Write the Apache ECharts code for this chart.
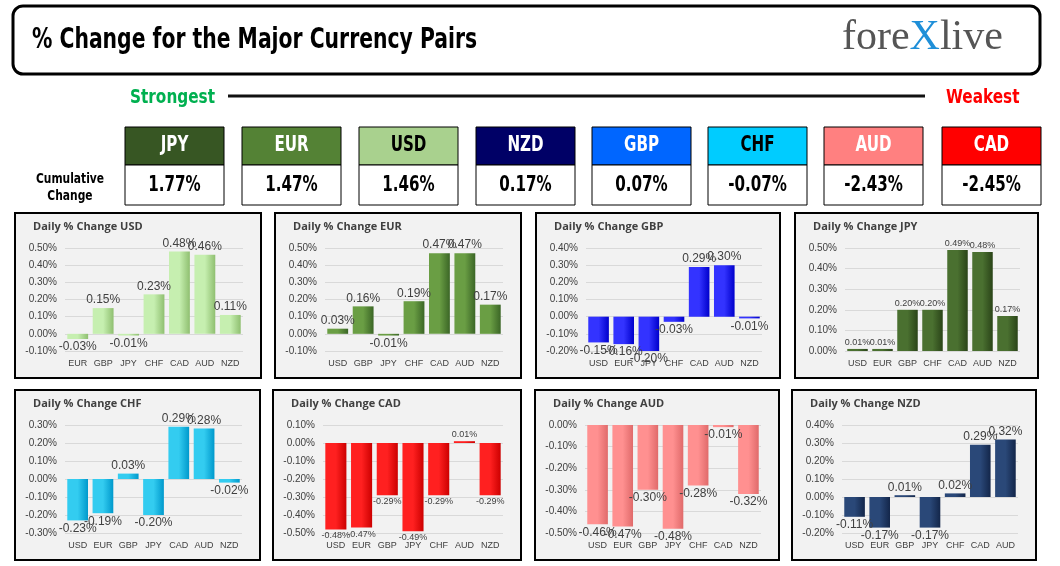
<!DOCTYPE html>
<html><head><meta charset="utf-8">
<script src="https://cdn.jsdelivr.net/npm/echarts@6/dist/echarts.min.js"></script>
<style>html,body{margin:0;padding:0;background:#fff}#c{width:1060px;height:566px}</style>
</head><body><div id="c"></div>
<script>
const rankCurrencies=['JPY','EUR','USD','NZD','GBP','CHF','AUD','CAD'];
const rankValues=[1.77,1.47,1.46,0.17,0.07,-0.07,-2.43,-2.45];
const usdCats=['EUR','GBP','JPY','CHF','CAD','AUD','NZD'], usdVals=[-0.03,0.15,-0.01,0.23,0.48,0.46,0.11];
const eurCats=['USD','GBP','JPY','CHF','CAD','AUD','NZD'], eurVals=[0.03,0.16,-0.01,0.19,0.47,0.47,0.17];
const gbpCats=['USD','EUR','JPY','CHF','CAD','AUD','NZD'], gbpVals=[-0.15,-0.16,-0.20,-0.03,0.29,0.30,-0.01];
const jpyCats=['USD','EUR','GBP','CHF','CAD','AUD','NZD'], jpyVals=[0.01,0.01,0.20,0.20,0.49,0.48,0.17];
const chfCats=['USD','EUR','GBP','JPY','CAD','AUD','NZD'], chfVals=[-0.23,-0.19,0.03,-0.20,0.29,0.28,-0.02];
const cadCats=['USD','EUR','GBP','JPY','CHF','AUD','NZD'], cadVals=[-0.48,-0.47,-0.29,-0.49,-0.29,0.01,-0.29];
const audCats=['USD','EUR','GBP','JPY','CHF','CAD','NZD'], audVals=[-0.46,-0.47,-0.30,-0.48,-0.28,-0.01,-0.32];
const nzdCats=['USD','EUR','GBP','JPY','CHF','CAD','AUD'], nzdVals=[-0.11,-0.17,0.01,-0.17,0.02,0.29,0.32];

const tileColors=['#375623','#548235','#a9d18e','#000066','#0066ff','#00ccff','#ff8080','#ff0000'];
const tileText=['#fff','#fff','#000','#fff','#fff','#000','#fff','#fff'];
const narrow='"DejaVu Sans Condensed","Liberation Sans Narrow",sans-serif';

const panels=[
 {t:'USD',c:usdCats,v:usdVals,min:-0.1,max:0.5,col:['#c6efb0','#8fbf70'],x:15,y:213,w:246,h:165,ls:12},
 {t:'EUR',c:eurCats,v:eurVals,min:-0.1,max:0.5,col:['#6a9e44','#3b6626'],x:275,y:213,w:246,h:165,ls:12},
 {t:'GBP',c:gbpCats,v:gbpVals,min:-0.2,max:0.4,col:['#3333ff','#0000cc'],x:536,y:213,w:244,h:165,ls:12},
 {t:'JPY',c:jpyCats,v:jpyVals,min:0,max:0.5,col:['#4a7030','#2a4418'],x:795,y:213,w:243,h:165,ls:9},
 {t:'CHF',c:chfCats,v:chfVals,min:-0.3,max:0.3,col:['#33ccf0','#0099cc'],x:15,y:390,w:245,h:170,ls:12},
 {t:'CAD',c:cadCats,v:cadVals,min:-0.5,max:0.1,col:['#ff2020','#cc0000'],x:273,y:390,w:248,h:170,ls:9},
 {t:'AUD',c:audCats,v:audVals,min:-0.5,max:0,col:['#ff9090','#e06a6a'],x:535,y:390,w:244,h:170,ls:12},
 {t:'NZD',c:nzdCats,v:nzdVals,min:-0.2,max:0.4,col:['#2a4878','#13264a'],x:792,y:390,w:244,h:170,ls:12}
];

function ntext(x,y,text,size,fill,align,sx){
  return {type:'text',x:x,y:y,scaleX:sx,style:{text:text,font:'bold '+size+'px '+narrow,fill:fill,textAlign:align,textVerticalAlign:'middle'}};
}
const graphic=[];
graphic.push({type:'rect',shape:{x:13,y:6,width:1027,height:68,r:10},style:{fill:'#fff',stroke:'#000',lineWidth:3}});
graphic.push(ntext(32,40,'% Change for the Major Currency Pairs',29,'#000','left',0.78));
graphic.push({type:'text',x:842,y:38,style:{rich:{a:{fontFamily:'"Liberation Serif",serif',fontSize:42,fill:'#555'},b:{fontFamily:'"Liberation Serif",serif',fontSize:42,fill:'#1f8fd8'}},text:'{a|fore}{b|X}{a|live}',textVerticalAlign:'middle'}});
graphic.push(ntext(130,98,'Strongest',20,'#00b050','left',0.85));
graphic.push(ntext(946,98,'Weakest',20,'#ff0000','left',0.85));
graphic.push({type:'line',shape:{x1:228,y1:96,x2:925,y2:96},style:{stroke:'#111',lineWidth:3}});
graphic.push(ntext(70,179,'Cumulative',14,'#000','center',0.85));
graphic.push(ntext(70,196,'Change',14,'#000','center',0.85));
const tileX=[125,242,359,476,592,708,824,942];
rankCurrencies.forEach((c,i)=>{
  const x=tileX[i];
  graphic.push({type:'rect',shape:{x:x,y:127,width:99,height:38},style:{fill:tileColors[i],stroke:'#000',lineWidth:1}});
  graphic.push({type:'rect',shape:{x:x,y:165,width:99,height:40},style:{fill:'#fff',stroke:'#000',lineWidth:1}});
  graphic.push(ntext(x+49.5,146,c,21,tileText[i],'center',0.8));
  graphic.push(ntext(x+49.5,186,rankValues[i].toFixed(2)+'%',21,'#000','center',0.8));
});

const grid=[],xAxis=[],yAxis=[],series=[];
panels.forEach((p,i)=>{
  graphic.push({type:'rect',z:-1,shape:{x:p.x,y:p.y,width:p.w,height:p.h},style:{fill:'#f2f2f2',stroke:'#000',lineWidth:2}});
  graphic.push({type:'text',x:p.x+18,y:p.y+14,style:{text:'Daily % Change '+p.t,font:'bold 11px "Open Sans",sans-serif',fill:'#404040',textVerticalAlign:'middle'}});
  grid.push({left:p.x+50,top:p.y+35,width:p.w-68,height:p.h-62});
  xAxis.push({type:'category',gridIndex:i,data:p.c,position:'bottom',axisLine:{show:false},axisTick:{show:false},
    axisLabel:{fontSize:9,color:'#404040',margin:8,interval:0}});
  yAxis.push({type:'value',gridIndex:i,min:p.min,max:p.max,interval:0.1,
    axisLabel:{fontSize:10,color:'#404040',formatter:v=>v.toFixed(2)+'%'},
    splitLine:{lineStyle:{color:'#d9d9d9'}},axisLine:{show:false},axisTick:{show:false}});
  series.push({type:'bar',xAxisIndex:i,yAxisIndex:i,barWidth:'82%',
    data:p.v.map(v=>({value:v,label:{position:v>=0?'top':'bottom'}})),
    itemStyle:{color:{type:'linear',x:0,y:0,x2:1,y2:0,colorStops:[{offset:0,color:p.col[0]},{offset:0.5,color:p.col[0]},{offset:1,color:p.col[1]}]}},
    label:{show:true,fontSize:p.ls,color:'#404040',distance:2,formatter:d=>d.value.toFixed(2)+'%'}});
});

const chart=echarts.init(document.getElementById('c'));
chart.setOption({animation:false,graphic:graphic,grid:grid,xAxis:xAxis,yAxis:yAxis,series:series});
</script></body></html>
